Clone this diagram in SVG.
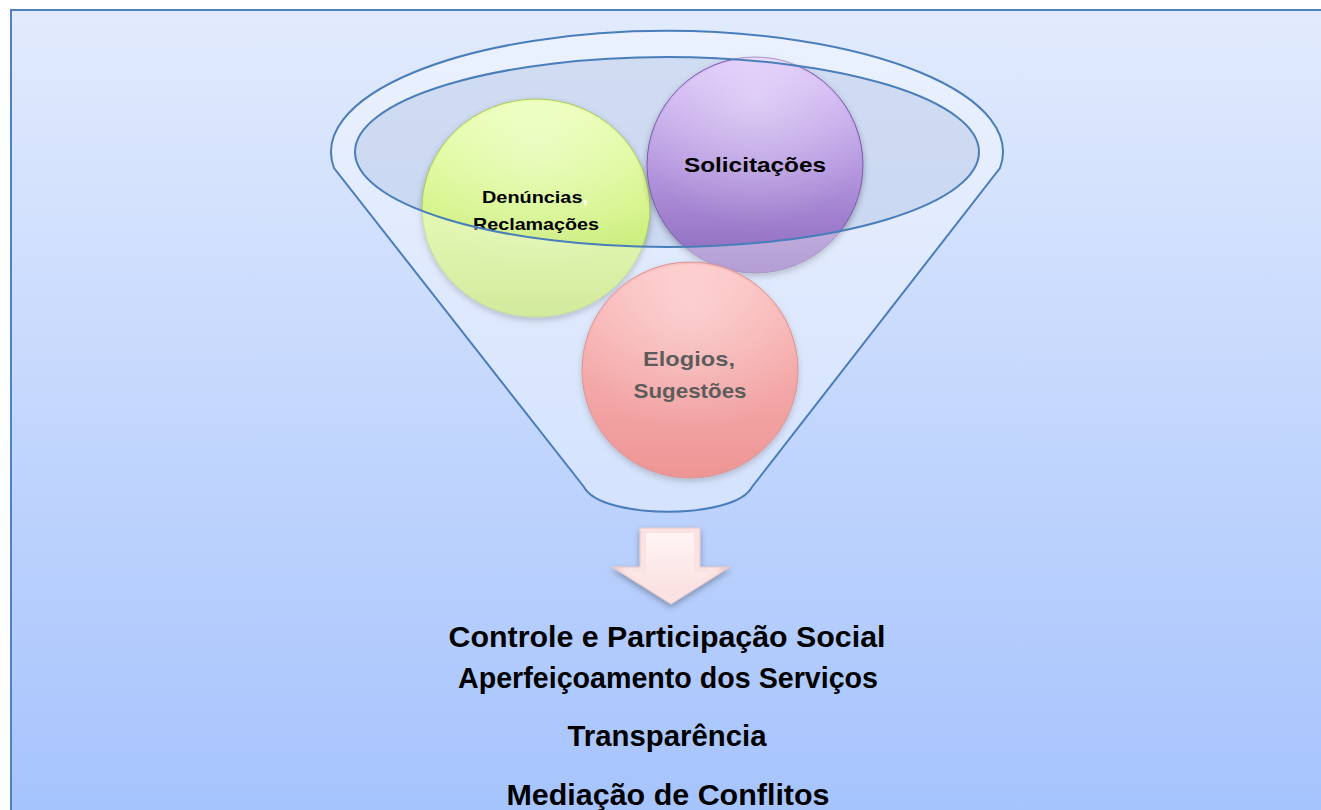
<svg xmlns="http://www.w3.org/2000/svg" width="1321" height="810" viewBox="0 0 1321 810">
<style>
.t{font-family:"Liberation Sans","DejaVu Sans",Arial,sans-serif;font-weight:bold;fill:#000;text-anchor:middle}
.ln{fill:none;stroke:#4a7ebb;stroke-width:2}
</style>
<defs>
<linearGradient id="bg" x1="0" y1="0" x2="0" y2="1">
<stop offset="0" stop-color="#e2ebfd"/>
<stop offset="1" stop-color="#a5c3fd"/>
</linearGradient>
<linearGradient id="gGreen" x1="0" y1="0" x2="0" y2="1">
<stop offset="0" stop-color="#eaffb0"/>
<stop offset="0.5" stop-color="#d6f58c"/>
<stop offset="1" stop-color="#b9df66"/>
</linearGradient>
<linearGradient id="gPurple" x1="0" y1="0" x2="0" y2="1">
<stop offset="0" stop-color="#dcc4fa"/>
<stop offset="0.5" stop-color="#b698e0"/>
<stop offset="1" stop-color="#8a68bc"/>
</linearGradient>
<linearGradient id="gPink" x1="0" y1="0" x2="0" y2="1">
<stop offset="0" stop-color="#fb9c9c"/>
<stop offset="1" stop-color="#e45a5a"/>
</linearGradient>
<linearGradient id="gArrow" x1="0" y1="0" x2="1" y2="0">
<stop offset="0" stop-color="#eec6c6"/>
<stop offset="0.12" stop-color="#fbe3e3"/>
<stop offset="0.88" stop-color="#fbe3e3"/>
<stop offset="1" stop-color="#e6bcbc"/>
</linearGradient>
<linearGradient id="gArrowIn" x1="0" y1="0" x2="0" y2="1">
<stop offset="0" stop-color="#fff4f4"/>
<stop offset="1" stop-color="#fbe0e0"/>
</linearGradient>
<radialGradient id="shine" cx="0.5" cy="0.2" r="0.6">
<stop offset="0" stop-color="#fff" stop-opacity="0.35"/>
<stop offset="1" stop-color="#fff" stop-opacity="0"/>
</radialGradient>
<filter id="sh" x="-20%" y="-20%" width="140%" height="140%">
<feDropShadow dx="0" dy="3" stdDeviation="3" flood-color="#000" flood-opacity="0.3"/>
</filter>
</defs>

<rect x="11" y="10" width="1320" height="810" fill="url(#bg)" stroke="#4f81bd" stroke-width="2"/>

<g id="funnel-back">
<ellipse cx="667" cy="152" rx="312" ry="95" fill="#c4d2ea" fill-opacity="0.55"/>
</g>

<g id="node-denuncias">
<ellipse cx="536" cy="208" rx="114" ry="109" fill="url(#gGreen)" stroke="#a8c860" stroke-width="1" filter="url(#sh)"/>
<ellipse cx="536" cy="208" rx="112" ry="107" fill="url(#shine)"/>
<text class="t" font-size="17" x="535" y="203" textLength="106" lengthAdjust="spacingAndGlyphs">Denúncias<tspan fill="#fff">,</tspan></text>
<text class="t" font-size="17" x="536" y="230" textLength="126" lengthAdjust="spacingAndGlyphs">Reclamações</text>
</g>

<g id="node-solicitacoes">
<circle cx="755" cy="165" r="108" fill="url(#gPurple)" stroke="#7a5aa8" stroke-width="1" filter="url(#sh)"/>
<circle cx="755" cy="165" r="106" fill="url(#shine)"/>
<text class="t" font-size="20" x="755" y="172" textLength="142" lengthAdjust="spacingAndGlyphs">Solicitações</text>
</g>

<g id="node-elogios">
<circle cx="690" cy="370" r="108" fill="url(#gPink)" stroke="#c85858" stroke-width="1" filter="url(#sh)"/>
<circle cx="690" cy="370" r="106" fill="url(#shine)"/>
<text class="t" font-size="21" x="689" y="366" textLength="92" lengthAdjust="spacingAndGlyphs">Elogios,</text>
<text class="t" font-size="21" x="690" y="398" textLength="113" lengthAdjust="spacingAndGlyphs">Sugestões</text>
</g>

<g id="funnel-front">
<path fill="#ffffff" fill-opacity="0.36" fill-rule="evenodd" d="M334 168 A336 121 0 1 1 1000 168 L752 487 C735 520 601 520 584 487 Z M355 152 A312 95 0 1 0 979 152 A312 95 0 1 0 355 152 Z"/>
<path class="ln" d="M334 168 A336 121 0 1 1 1000 168 L752 487 C735 520 601 520 584 487 Z"/>
<ellipse class="ln" cx="667" cy="152" rx="312" ry="95"/>
</g>

<g id="connectors">
<polygon points="640,528 700,528 700,567 730,567 671,604 612,567 640,567" fill="url(#gArrow)" stroke="#e8c8c8" stroke-width="1" filter="url(#sh)"/>
<polygon points="646,533 694,533 694,572 714,572 671,597 628,572 646,572" fill="url(#gArrowIn)"/>
</g>

<g id="results">
<text class="t" font-size="29" x="667" y="647" textLength="437" lengthAdjust="spacingAndGlyphs">Controle e Participação Social</text>
<text class="t" font-size="29" x="668" y="688" textLength="420" lengthAdjust="spacingAndGlyphs">Aperfeiçoamento dos Serviços</text>
<text class="t" font-size="29" x="667" y="746" textLength="199" lengthAdjust="spacingAndGlyphs">Transparência</text>
<text class="t" font-size="29" x="668" y="805" textLength="323" lengthAdjust="spacingAndGlyphs">Mediação de Conflitos</text>
</g>
</svg>
